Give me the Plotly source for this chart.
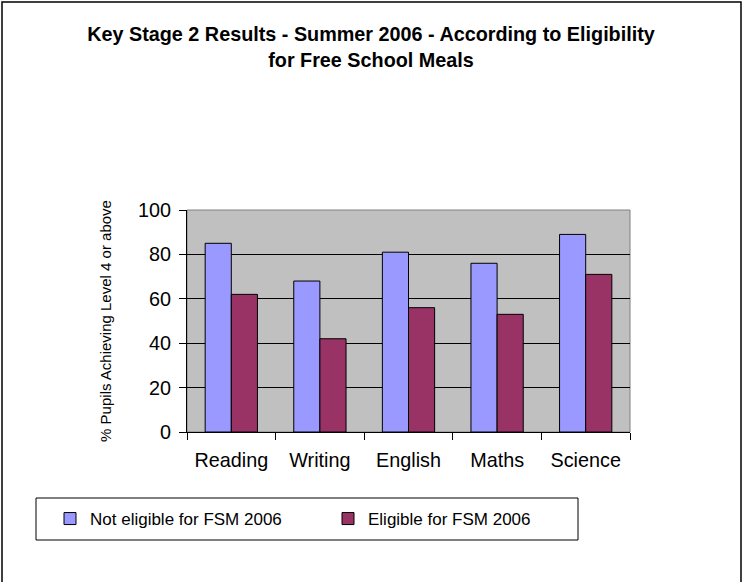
import plotly.graph_objects as go

# Key Stage 2 results by subject, split by free school meal eligibility
subjects = ["Reading", "Writing", "English", "Maths", "Science"]
not_eligible = [85, 68, 81, 76, 89]
eligible = [62, 42, 56, 53, 71]
series_names = ["Not eligible for FSM 2006", "Eligible for FSM 2006"]
y_ticks = [0, 20, 40, 60, 80, 100]

FONT = "Liberation Sans, Arial, sans-serif"
W, H = 742, 582
L, R, T, B = 187, 112, 210, 150
PW, PH = W - L - R, H - T - B


def px_x(x):
    return (x - L) / PW


def px_y(y):
    return (H - B - y) / PH


legend_style = dict(
    orientation="h",
    xanchor="left",
    y=px_y(519), yanchor="middle",
    itemwidth=30,
    font=dict(family=FONT, size=17),
    bgcolor="rgba(0,0,0,0)",
)

fig = go.Figure()
fig.add_trace(go.Bar(
    x=subjects, y=not_eligible, name=series_names[0],
    marker=dict(color="#9999FF", line=dict(color="#000000", width=1)),
    legend="legend",
))
fig.add_trace(go.Bar(
    x=subjects, y=eligible, name=series_names[1],
    marker=dict(color="#993366", line=dict(color="#000000", width=1)),
    legend="legend2",
))

fig.update_layout(
    width=W, height=H,
    margin=dict(l=L, r=R, t=T, b=B, autoexpand=False),
    paper_bgcolor="white",
    plot_bgcolor="#C0C0C0",
    barmode="group",
    bargap=0.41,
    bargroupgap=0,
    font=dict(family=FONT, color="#000000"),
    title=dict(
        text="<b>Key Stage 2 Results - Summer 2006 - According to Eligibility<br>for Free School Meals</b>",
        x=0.5, xanchor="center", xref="container",
        y=1 - 41 / H, yanchor="middle", yref="container",
        font=dict(family=FONT, size=19.8, color="#000000"),
    ),
    xaxis=dict(
        type="category",
        showgrid=False,
        showline=True, linecolor="#000000", linewidth=1,
        ticks="outside", tickson="boundaries", ticklen=7,
        tickcolor="#000000",
        tickfont=dict(size=19.8),
        ticklabelstandoff=10,
    ),
    yaxis=dict(
        range=[0, 100],
        tickvals=y_ticks,
        showgrid=True, gridcolor="#000000", gridwidth=1,
        zeroline=False,
        showline=True, linecolor="#000000", linewidth=1,
        ticks="outside", ticklen=7, tickcolor="#000000",
        tickfont=dict(size=19.8),
        ticklabelstandoff=4,
        title=dict(text="% Pupils Achieving Level 4 or above",
                   font=dict(size=15), standoff=22),
    ),
    showlegend=True,
    legend=dict(legend_style, x=px_x(50)),
    legend2=dict(legend_style, x=px_x(328)),
    shapes=[
        # gray frame of the plotting area
        dict(type="rect", xref="paper", yref="paper", x0=0, x1=1, y0=0, y1=1,
             line=dict(color="#808080", width=1), layer="below"),
        # legend box
        dict(type="rect", xref="paper", yref="paper",
             x0=px_x(36), x1=px_x(578), y0=px_y(498), y1=px_y(540),
             line=dict(color="#000000", width=1)),
        # outer chart border
        dict(type="rect", xref="paper", yref="paper",
             x0=px_x(2), x1=px_x(741), y0=px_y(600), y1=px_y(2),
             line=dict(color="#000000", width=1.5)),
    ],
)

fig.write_html("out.html")
